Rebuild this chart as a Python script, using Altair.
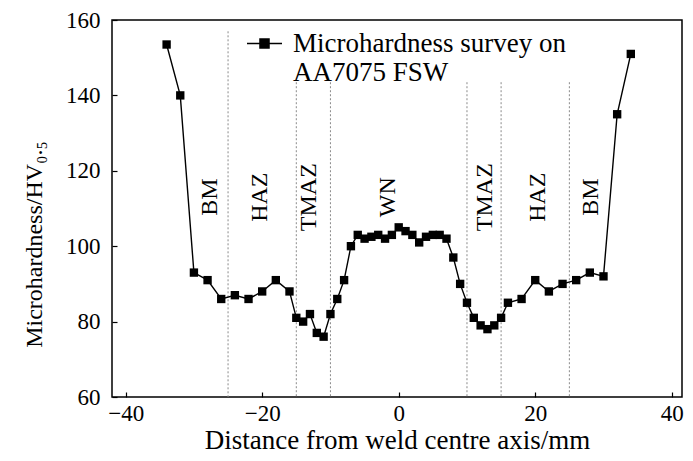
import altair as alt
import pandas as pd

# ---- data ----
dist = [-34, -32, -30, -28, -26, -24, -22, -20, -18, -16, -15, -14, -13, -12, -11,
        -10, -9, -8, -7, -6, -5, -4, -3, -2, -1, 0, 1, 2, 3, 4, 5, 6, 7, 8, 9,
        10, 11, 12, 13, 14, 15, 16, 18, 20, 22, 24, 26, 28, 30, 32, 34]
hardness = [153.5, 140, 93, 91, 86, 87, 86, 88, 91, 88, 81, 80, 82, 77, 76,
            82, 86, 91, 100, 103, 102, 102.5, 103, 102, 103, 105, 104, 103, 101, 102.5, 103, 103, 102, 97, 90,
            85, 81, 79, 78, 79, 81, 85, 86, 91, 88, 90, 91, 93, 92, 135, 151]
series_name = "Microhardness survey on AA7075 FSW"

zone_x = [-25, -15, -10, 10, 15, 25]
zone_top = [157, 143.5, 143.5, 143.5, 143.5, 143.5]
zone_bottom = [60, 60, 60, 60, 60, 60]

label_text = ["BM", "HAZ", "TMAZ", "WN", "TMAZ", "HAZ", "BM"]
label_x = [-27.7, -20.3, -13.1, -1.5, 12.7, 20.4, 28.2]
label_y = [113, 113, 113, 113, 113, 113, 113]

x_ticks = [-40, -20, 0, 20, 40]
y_ticks = [60, 80, 100, 120, 140, 160]
X_DOMAIN = [-42, 41.5]
Y_DOMAIN = [60, 160]

W, H = 570, 377
FONT = "Liberation Serif"
TICK = 5

df = pd.DataFrame({"x": dist, "y": hardness, "s": [series_name] * len(dist)})
zones = pd.DataFrame({"x": zone_x, "y": zone_top, "bottom": zone_bottom})
labels = pd.DataFrame({"x": label_x, "y": label_y, "t": label_text})

xs = alt.Scale(domain=X_DOMAIN, nice=False, zero=False)
ys = alt.Scale(domain=Y_DOMAIN, nice=False, zero=False)

x_axis = alt.Axis(
    title="Distance from weld centre axis/mm", values=x_ticks,
    tickSize=TICK, offset=-TICK, tickColor="black", tickWidth=1.2,
    domain=False, grid=False, labelFont=FONT, labelFontSize=23, labelColor="black",
    labelPadding=5, titleFont=FONT, titleFontSize=27, titleFontWeight="normal",
    titleColor="black", titlePadding=2, labelFlush=False)
y_axis = alt.Axis(
    title="Microhardness/HV₀.₅", values=y_ticks,
    tickSize=TICK, offset=-TICK, tickColor="black", tickWidth=1.2,
    domain=False, grid=False, labelFont=FONT, labelFontSize=23, labelColor="black",
    labelPadding=12, titleFont=FONT, titleFontSize=24, titleFontWeight="normal",
    titleColor="black", titleX=-83, titleY=224, titleBaseline="middle",
    titleAlign="center", titleAngle=270, labelFlush=False)

X = alt.X("x:Q", scale=xs, axis=x_axis)
Y = alt.Y("y:Q", scale=ys, axis=y_axis)

line = alt.Chart(df).mark_line(color="black", strokeWidth=1.4).encode(x=X, y=Y)

legend_path = "M-1,0H1M-0.26,-0.26H0.26V0.26H-0.26Z"
pts = alt.Chart(df).mark_point(shape="square", filled=True, size=70, opacity=1).encode(
    x=X, y=Y,
    color=alt.Color("s:N", scale=alt.Scale(range=["black"]), legend=alt.Legend(
        title=None, orient="none", legendX=134, legendY=5,
        symbolType=legend_path, symbolSize=1225, symbolStrokeWidth=1.4,
        symbolFillColor="black", symbolStrokeColor="black",
        labelFont=FONT, labelFontSize=27, labelColor="black", labelOffset=10,
        labelLimit=0, labelBaseline="middle",
        labelExpr="['Microhardness survey on', 'AA7075 FSW']")))

rules = alt.Chart(zones).mark_rule(color="#8a8a8a", strokeWidth=1, strokeDash=[2, 2]).encode(
    x=X, y=Y, y2="bottom:Q")

text = alt.Chart(labels).mark_text(font=FONT, fontSize=24, angle=270, color="black").encode(
    x=X, y=Y, text="t:N")

chart = alt.layer(rules, line, pts, text).properties(
    width=W, height=H,
    autosize=alt.AutoSizeParams(type="none"),
    padding={"left": 104, "top": 12, "right": 3, "bottom": 60},
    background="white",
).configure_view(stroke="black", strokeWidth=1.5)

chart.save("out.html", embed_options={"renderer": "svg", "actions": False})
